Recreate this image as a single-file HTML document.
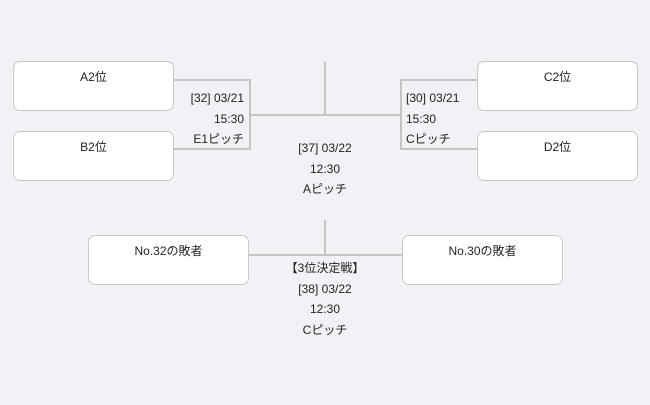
<!DOCTYPE html>
<html><head><meta charset="utf-8"><style>
body{margin:0;width:650px;height:405px;background:#f3f1f5;position:relative;overflow:hidden;font-family:"Liberation Sans","Noto Sans CJK JP",sans-serif;font-size:12px;color:#222}
.b{position:absolute;width:159px;height:48px;background:#fff;border:1px solid #c8c8c8;border-radius:7px;text-align:center;line-height:30px;box-sizing:border-box}
.l{position:absolute;background:#c4c4c4}
.t{position:absolute;line-height:20.5px;white-space:nowrap}
</style></head><body>
<div class="b" style="left:13px;top:61px;width:161px;height:50px">A2位</div>
<div class="b" style="left:13px;top:131px;width:161px;height:50px">B2位</div>
<div class="b" style="left:477px;top:61px;width:161px;height:50px">C2位</div>
<div class="b" style="left:477px;top:131px;width:161px;height:50px">D2位</div>
<div class="b" style="left:88px;top:235px;width:161px;height:50px">No.32の敗者</div>
<div class="b" style="left:402px;top:235px;width:161px;height:50px">No.30の敗者</div>
<div class="l" style="left:174px;top:79px;width:76px;height:2px"></div>
<div class="l" style="left:174px;top:148px;width:76px;height:2px"></div>
<div class="l" style="left:249px;top:79px;width:2px;height:71px"></div>
<div class="l" style="left:400px;top:79px;width:77px;height:2px"></div>
<div class="l" style="left:400px;top:148px;width:77px;height:2px"></div>
<div class="l" style="left:400px;top:79px;width:2px;height:71px"></div>
<div class="l" style="left:250px;top:114px;width:151px;height:2px"></div>
<div class="l" style="left:324px;top:62px;width:2px;height:53px"></div>
<div class="l" style="left:249px;top:254px;width:153px;height:2px"></div>
<div class="l" style="left:324px;top:220px;width:2px;height:35px"></div>
<div class="t" style="right:406px;top:88px;text-align:right">[32] 03/21<br>15:30<br>E1ピッチ</div>
<div class="t" style="left:406px;top:88px;text-align:left">[30] 03/21<br>15:30<br>Cピッチ</div>
<div class="t" style="left:225px;width:200px;top:138px;text-align:center">[37] 03/22<br>12:30<br>Aピッチ</div>
<div class="t" style="left:225px;width:200px;top:258px;text-align:center">【3位決定戦】<br>[38] 03/22<br>12:30<br>Cピッチ</div>
</body></html>
